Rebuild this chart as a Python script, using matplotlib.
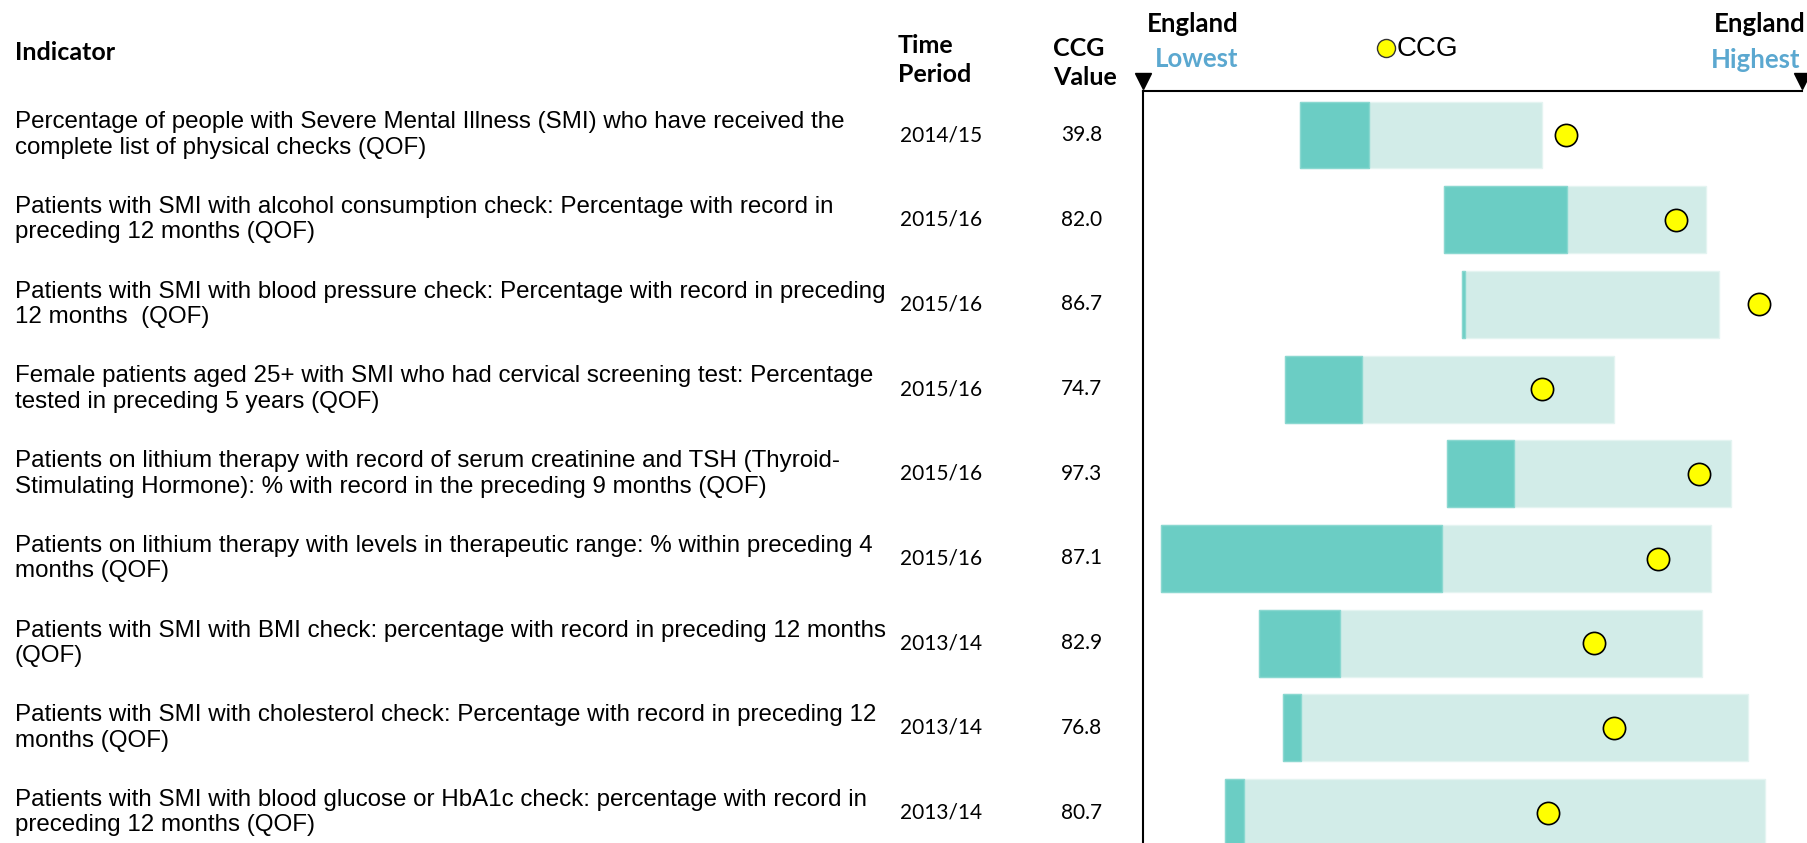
import matplotlib
matplotlib.use("Agg")
from matplotlib import pyplot as plt

W, H = 1808, 843

indicators = [
    "Percentage of people with Severe Mental Illness (SMI) who have received the\ncomplete list of physical checks (QOF)",
    "Patients with SMI with alcohol consumption check: Percentage with record in\npreceding 12 months (QOF)",
    "Patients with SMI with blood pressure check: Percentage with record in preceding\n12 months  (QOF)",
    "Female patients aged 25+ with SMI who had cervical screening test: Percentage\ntested in preceding 5 years (QOF)",
    "Patients on lithium therapy with record of serum creatinine and TSH (Thyroid-\nStimulating Hormone): % with record in the preceding 9 months (QOF)",
    "Patients on lithium therapy with levels in therapeutic range: % within preceding 4\nmonths (QOF)",
    "Patients with SMI with BMI check: percentage with record in preceding 12 months\n(QOF)",
    "Patients with SMI with cholesterol check: Percentage with record in preceding 12\nmonths (QOF)",
    "Patients with SMI with blood glucose or HbA1c check: percentage with record in\npreceding 12 months (QOF)",
]
periods = ["2014/15", "2015/16", "2015/16", "2015/16", "2015/16",
           "2015/16", "2013/14", "2013/14", "2013/14"]
ccg_values = ["39.8", "82.0", "86.7", "74.7", "97.3", "87.1", "82.9", "76.8", "80.7"]

# positions on the lowest..highest scale (0-100)
range_lo = [23.8, 45.6, 48.4, 21.5, 46.1, 2.8, 17.6, 21.2, 12.4]
range_mid = [34.3, 64.3, 48.8, 33.2, 56.3, 45.4, 29.9, 24.0, 15.4]
range_hi = [60.5, 85.5, 87.4, 71.5, 89.3, 86.2, 84.8, 91.8, 94.4]
ccg_pos = [64.2, 80.9, 93.5, 60.5, 84.3, 78.1, 68.4, 71.5, 61.4]

DARK = "#6bcdc4"
LIGHT = "#d2ece8"
BLUE = "#5ba8d0"

fig = plt.figure(figsize=(W / 100, H / 100), dpi=100)

def fx(px):
    return px / W

def fy(py):
    return 1 - py / H

# chart axes: left line at x=1143, top line at y=91, rows from y=135 every 84.7 px
ax_left, ax_right, ax_top = 1143, 1802, 91
row0, step = 135, 84.7
ax = fig.add_axes([fx(ax_left), 0, fx(ax_right - ax_left), 1 - ax_top / H])
ax.set_xlim(0, 100)
ax.set_ylim((H - row0) / step, (ax_top - row0) / step)

n = len(indicators)
ys = list(range(n))
ax.barh(ys, [h - l for l, h in zip(range_lo, range_hi)], left=range_lo,
        height=0.79, color=LIGHT, edgecolor="#e4f4f1", linewidth=1)
ax.barh(ys, [m - l for l, m in zip(range_lo, range_mid)], left=range_lo,
        height=0.79, color=DARK, edgecolor="#8ad8d0", linewidth=1)
ax.plot(ccg_pos, ys, "o", ms=16, mfc="#ffff00", mec="black", mew=1.2,
        linestyle="none", clip_on=False, zorder=5)

for s in ["right", "bottom"]:
    ax.spines[s].set_visible(False)
for s in ["left", "top"]:
    ax.spines[s].set_color("black")
    ax.spines[s].set_linewidth(1.5)
ax.set_xticks([])
ax.set_yticks([])

arrow_y = (ax_top - 10 - row0) / step
ax.plot([0, 100], [arrow_y, arrow_y], "v", color="black", ms=11,
        clip_on=False, linestyle="none")

# table text
for i in range(n):
    yc = row0 + step * i
    fig.text(fx(15), fy(yc), indicators[i], fontsize=17.4, family="Liberation Sans",
             va="center", ha="left", linespacing=1.2)
    fig.text(fx(900), fy(yc), periods[i], fontsize=15, family="Lato",
             va="center", ha="left")
    fig.text(fx(1061), fy(yc), ccg_values[i], fontsize=15, family="Lato",
             va="center", ha="left")

fig.text(fx(15), fy(53), "Indicator", fontsize=18, family="Lato",
         weight="bold", va="center")
fig.text(fx(898), fy(60), "Time\nPeriod", fontsize=18, family="Lato",
         weight="bold", va="center", linespacing=1.35)
fig.text(fx(1053), fy(63), "CCG\nValue", fontsize=18, family="Lato",
         weight="bold", va="center", linespacing=1.35)

fig.text(fx(1193), fy(24), "England", fontsize=18.5, family="Lato",
         weight="bold", ha="center", va="center")
fig.text(fx(1197), fy(59), "Lowest", fontsize=18.5, family="Lato",
         weight="bold", ha="center", va="center", color=BLUE)
fig.text(fx(1760), fy(24), "England", fontsize=18.5, family="Lato",
         weight="bold", ha="center", va="center")
fig.text(fx(1756), fy(60), "Highest", fontsize=18.5, family="Lato",
         weight="bold", ha="center", va="center", color=BLUE)

# legend
fig.lines.append(plt.Line2D([fx(1386)], [fy(48)], marker="o", ms=13,
                            mfc="#ffff00", mec="#333333", mew=1,
                            transform=fig.transFigure))
fig.text(fx(1397), fy(49), "CCG", fontsize=20, family="Liberation Sans",
         ha="left", va="center")

fig.savefig("out.png", dpi=100)
